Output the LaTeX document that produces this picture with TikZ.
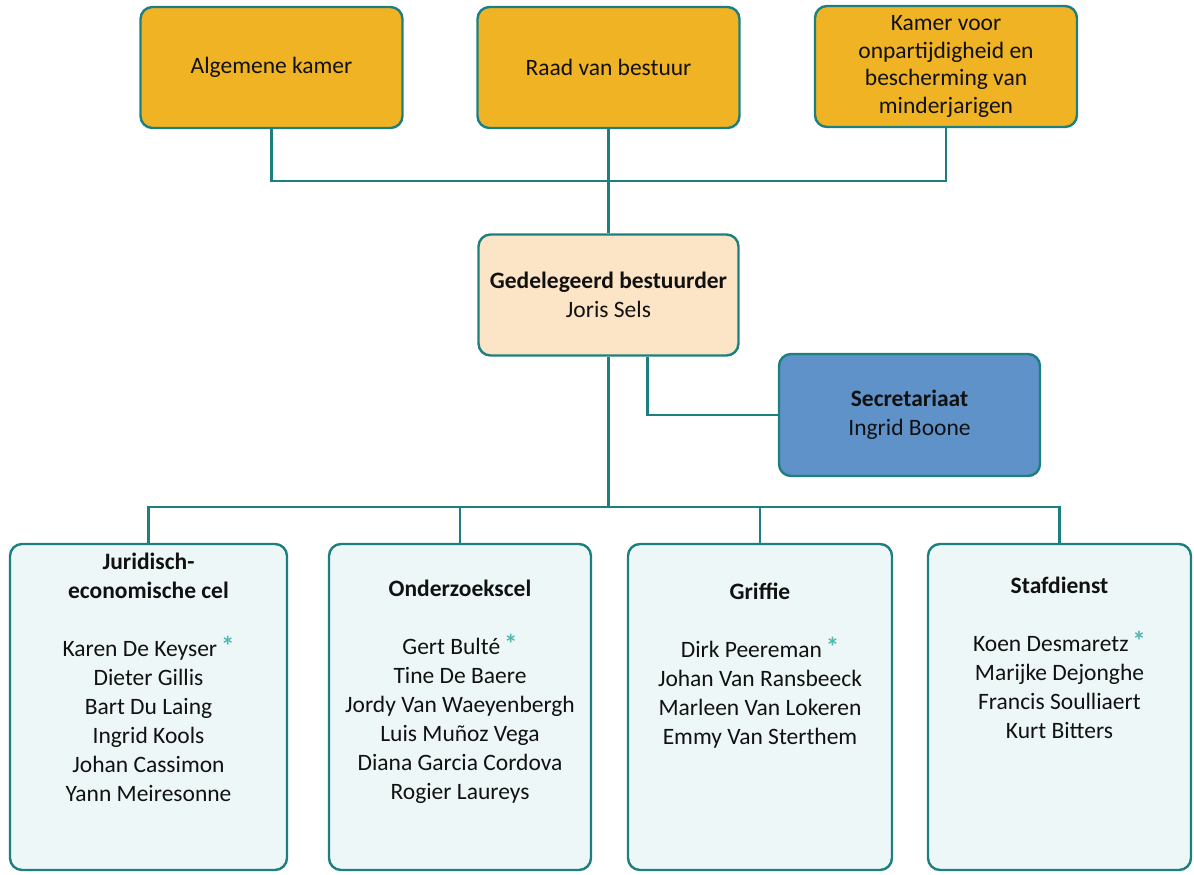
\documentclass[tikz,border=0pt]{standalone}
\usepackage{fontspec}
\setmainfont{Carlito}
\definecolor{lineteal}{HTML}{1E7F80}
\definecolor{gold}{HTML}{F0B323}
\definecolor{peach}{HTML}{FCE4C6}
\definecolor{secblue}{HTML}{5F92C8}
\definecolor{pale}{HTML}{EEF7F7}
\definecolor{startl}{HTML}{4FB8B0}
\definecolor{ink}{HTML}{111111}
\newcommand\myfs{\fontsize{23.5}{29}\selectfont}
\newcommand\st{\,\textcolor{startl}{\raisebox{1pt}{\bfseries\fontsize{27}{29}\selectfont*}}}
\begin{document}
\begin{tikzpicture}[x=1pt,y=-1pt,
  box/.style={draw=lineteal, line width=2.4pt, rounded corners=12pt, inner sep=0pt,
    align=center, font=\myfs, text=ink},
  topbox/.style={box, fill=gold, minimum width=262pt, minimum height=121pt},
  gedbox/.style={box, fill=peach, minimum width=260pt, minimum height=121pt},
  secbox/.style={box, fill=secblue, minimum width=261pt, minimum height=122pt},
  unitbox/.style={box, fill=pale, minimum height=326pt},
  txt/.style={inner sep=0pt, align=center, font=\myfs, text=ink},
  conn/.style={draw=lineteal, line width=2.4pt}]
\useasboundingbox (0,0) rectangle (1194,875);
% top row
\node[topbox] (alg) at (271.5,67.5) {Algemene kamer};
\node[topbox] (raad) at (608.5,67.5) {Raad van bestuur};
\node[topbox, font=\fontsize{23.5}{27.4}\selectfont] (kamer) at (946,66.5) {Kamer voor\\onpartijdigheid en\\bescherming van\\minderjarigen};
% middle
\node[gedbox] (ged) at (608.5,295) {\textbf{Gedelegeerd bestuurder}\\Joris Sels};
\node[secbox] (secr) at (909.5,415) {\textbf{Secretariaat}\\Ingrid Boone};
% bottom boxes
\node[unitbox, minimum width=277pt] (jur) at (148.5,707) {};
\node[unitbox, minimum width=262pt] (ond) at (460,707) {};
\node[unitbox, minimum width=264pt] (grif) at (760,707) {};
\node[unitbox, minimum width=263pt] (staf) at (1059.5,707) {};
\node[txt] (jurT) at (148.5,677.5) {\textbf{Juridisch-}\\\textbf{economische cel}\\[29pt]Karen De Keyser\st\\Dieter Gillis\\Bart Du Laing\\Ingrid Kools\\Johan Cassimon\\Yann Meiresonne};
\node[txt] (ondT) at (460,691.5) {\textbf{Onderzoekscel}\\[29pt]Gert Bult\'e\st\\Tine De Baere\\Jordy Van Waeyenbergh\\Luis Mu\~noz Vega\\Diana Garcia Cordova\\Rogier Laureys};
\node[txt] (grifT) at (760,665.5) {\textbf{Griffie}\\[29pt]Dirk Peereman\st\\Johan Van Ransbeeck\\Marleen Van Lokeren\\Emmy Van Sterthem};
\node[txt] (stafT) at (1059.5,658) {\textbf{Stafdienst}\\[29pt]Koen Desmaretz\st\\Marijke Dejonghe\\Francis Soulliaert\\Kurt Bitters};
% connectors
\coordinate (topbar) at (608.5,181);
\coordinate (hub) at (608.5,507);
\draw[conn] (alg.south) |- (topbar) -| (kamer.south);
\draw[conn] (raad.south) -- (ged.north);
\draw[conn] ([xshift=39pt]ged.south) |- (secr.west);
\draw[conn] (ged.south) -- (hub);
\draw[conn] (jur.north) |- (hub) -| (staf.north);
\draw[conn] (ond.north) -- (ond.north |- hub);
\draw[conn] (grif.north) -- (grif.north |- hub);
\end{tikzpicture}
\end{document}
